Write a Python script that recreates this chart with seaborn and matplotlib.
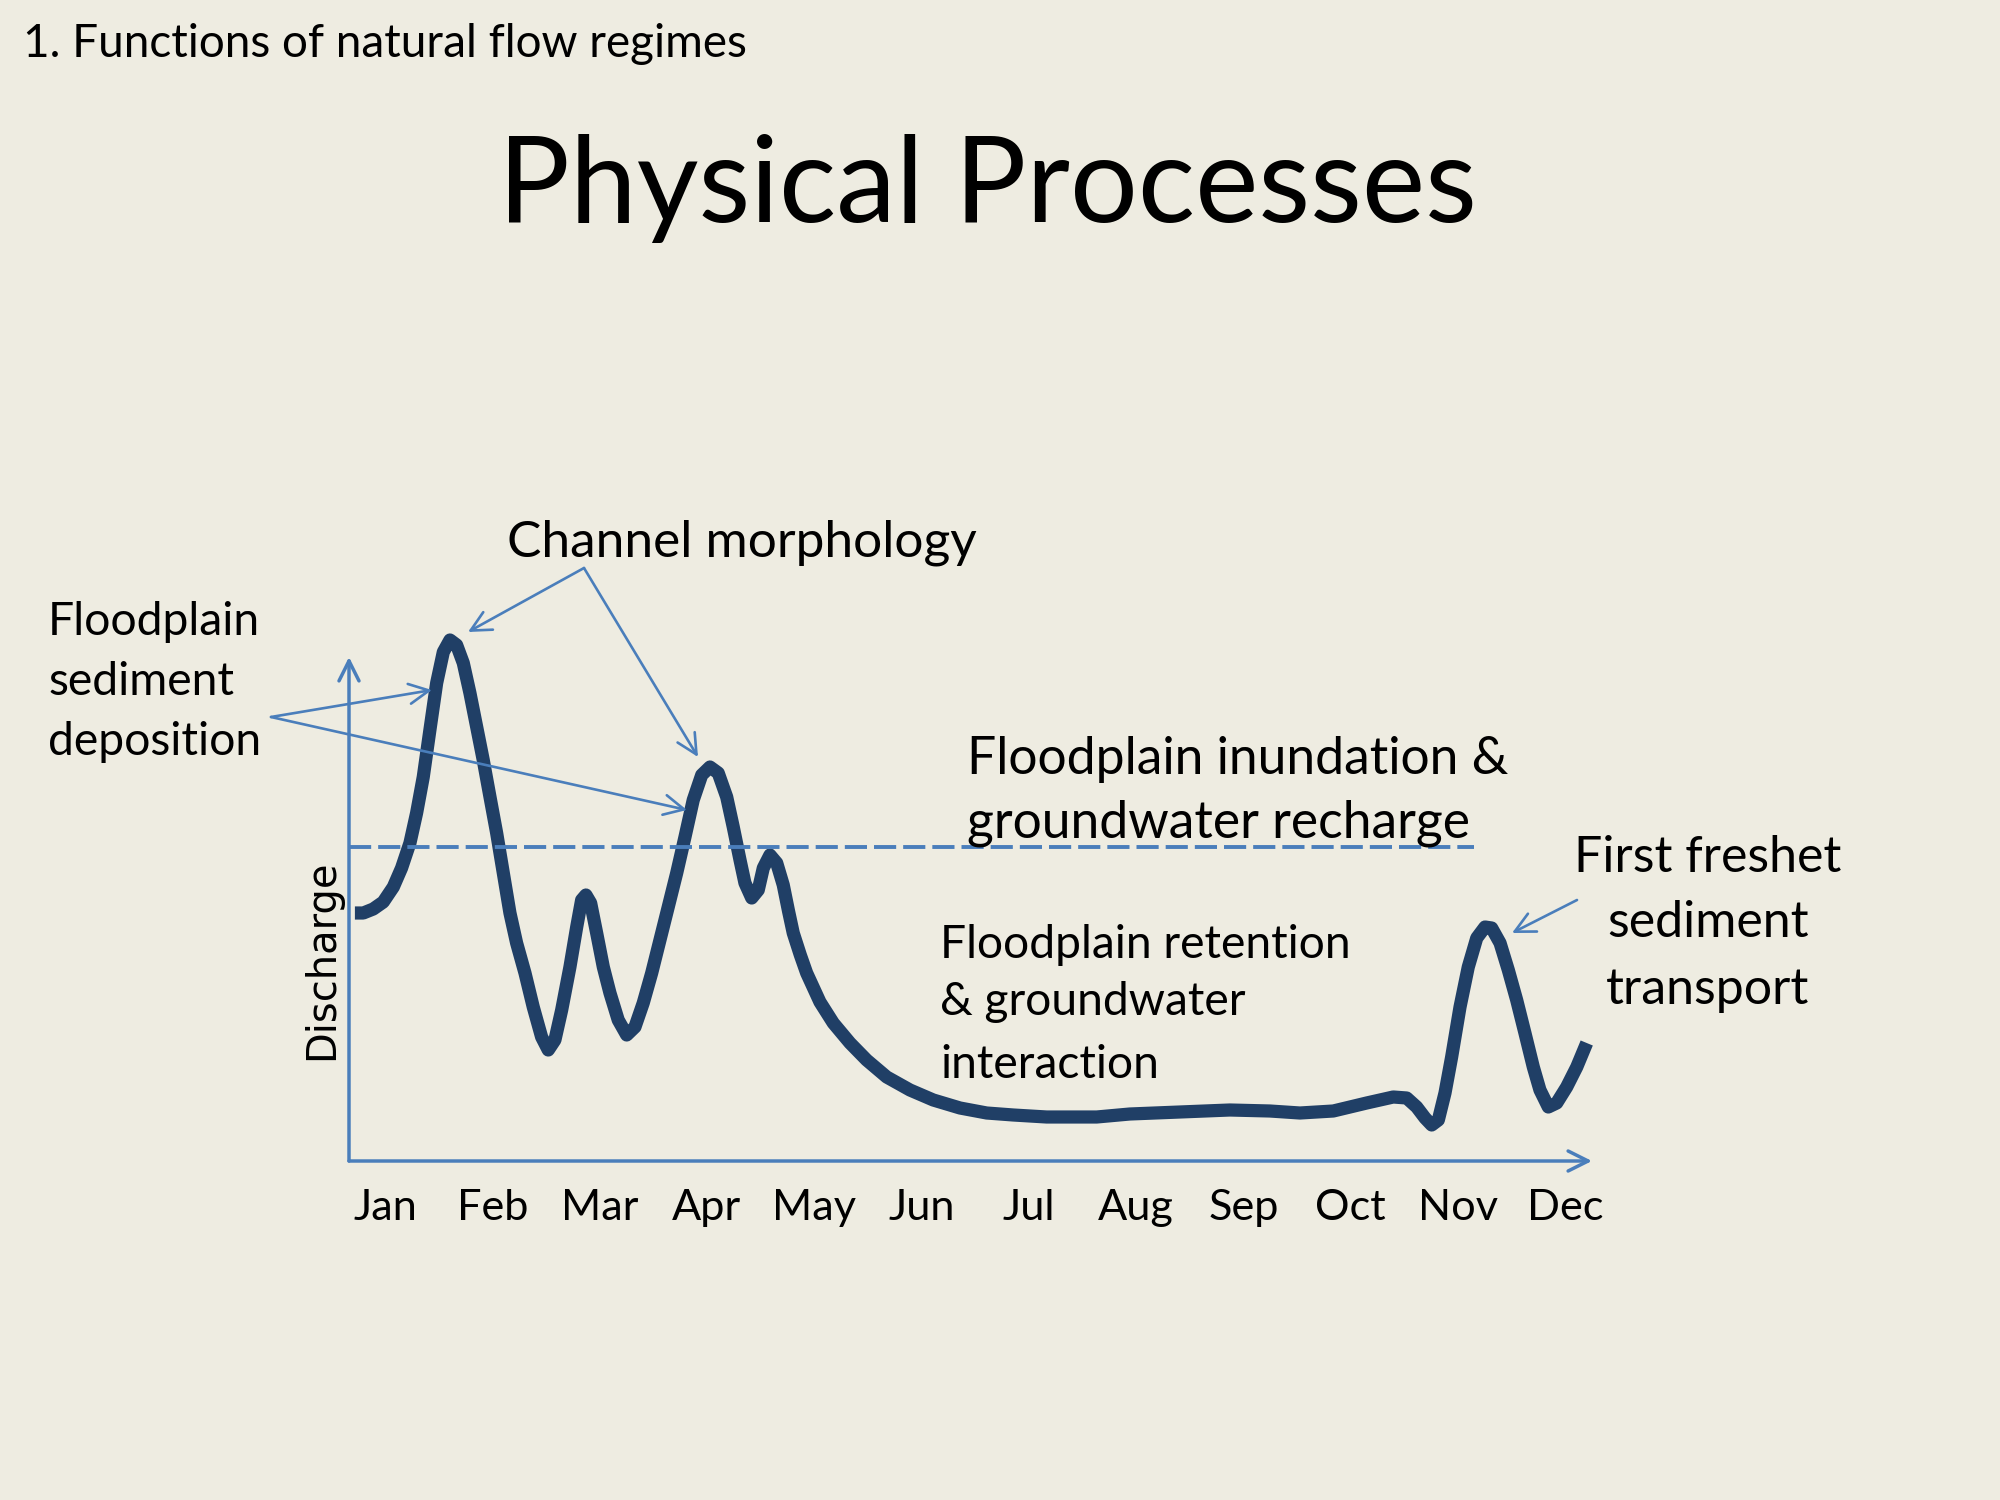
import matplotlib
matplotlib.use("Agg")
import matplotlib.pyplot as plt
from matplotlib.patches import FancyArrowPatch
import seaborn as sns
import pandas as pd

# ---------------- data ----------------
MONTHS = ["Jan", "Feb", "Mar", "Apr", "May", "Jun",
          "Jul", "Aug", "Sep", "Oct", "Nov", "Dec"]

# hydrograph: position in months (0 = Jan label), discharge (arbitrary units)
FLOW_MONTH = [-0.281, -0.203, -0.110, -0.017, 0.077, 0.154, 0.232, 0.294, 0.356, 0.418,
              0.481, 0.543, 0.605, 0.667, 0.729, 0.791, 0.854, 0.915, 0.978, 1.040,
              1.102, 1.164, 1.226, 1.304, 1.381, 1.459, 1.521, 1.583, 1.646, 1.723,
              1.786, 1.832, 1.872, 1.916, 1.972, 2.034, 2.096, 2.173, 2.252, 2.329,
              2.406, 2.485, 2.562, 2.639, 2.718, 2.795, 2.872, 2.951, 3.028, 3.105,
              3.184, 3.245, 3.308, 3.354, 3.417, 3.478, 3.525, 3.587, 3.650, 3.711,
              3.760, 3.804, 3.870, 3.929, 4.053, 4.177, 4.333, 4.488, 4.675, 4.892, 5.109,
              5.358, 5.607, 5.855, 6.166, 6.632, 6.941, 7.407, 7.873, 8.246, 8.526,
              8.837, 9.148, 9.396, 9.521, 9.614, 9.692, 9.754, 9.816, 9.878, 9.940,
              10.018, 10.095, 10.174, 10.251, 10.313, 10.391, 10.468, 10.546, 10.623, 10.701,
              10.763, 10.841, 10.919, 11.012, 11.106, 11.199]
FLOW_DISCHARGE = [24.8, 24.8, 25.2, 25.9, 27.4, 29.3, 31.8, 34.8, 38.4, 43.1,
                  47.8, 50.9, 52.1, 51.6, 49.8, 46.8, 43.4, 40.1, 36.4, 32.8,
                  28.8, 24.8, 21.8, 18.8, 15.4, 12.4, 11.1, 12.1, 15.1, 19.4,
                  23.4, 26.1, 26.6, 25.8, 22.8, 19.4, 16.8, 14.1, 12.6, 13.4,
                  15.8, 18.8, 22.1, 25.4, 28.8, 32.4, 36.1, 38.6, 39.4, 38.8,
                  36.4, 33.4, 30.1, 27.8, 26.3, 27.1, 29.3, 30.6, 29.8, 27.6,
                  25.0, 22.8, 20.6, 18.8, 15.9, 13.8, 11.8, 10.1, 8.4, 7.1, 6.1,
                  5.3, 4.8, 4.6, 4.4, 4.4, 4.7, 4.9, 5.1, 5.0, 4.8,
                  5.0, 5.8, 6.4, 6.3, 5.4, 4.3, 3.6, 4.1, 6.8, 10.4,
                  15.4, 19.4, 22.3, 23.4, 23.3, 21.8, 19.1, 16.1, 12.8, 9.4,
                  7.1, 5.4, 5.8, 7.4, 9.4, 11.8]

INUNDATION_LEVEL = 31.4      # dashed threshold
INUNDATION_END = 10.15       # dashed line stops here (months)
AXIS_TOP = 50.4              # top of the discharge arrow

SUBTITLE = "1. Functions of natural flow regimes"
TITLE = "Physical Processes"
Y_LABEL = "Discharge"
CHANNEL_TXT = "Channel morphology"
DEPOSITION_TXT = ["Floodplain", "sediment", "deposition"]
INUNDATION_TXT = ["Floodplain inundation &", "groundwater recharge"]
FRESHET_TXT = ["First freshet", "sediment", "transport"]
RETENTION_TXT = ["Floodplain retention", "& groundwater", "interaction"]

# ---------------- style ----------------
BG = "#EEECE1"
NAVY = "#203F66"
BLUE = "#4A7EBB"
W, H = 2000, 1500

sns.set_theme(style="white")
plt.rcParams["font.family"] = ["Lato", "DejaVu Sans"]

fig = plt.figure(figsize=(20, 15), dpi=100, facecolor=BG)


def F(x, y):
    return (x / W, 1 - y / H)


ax_l, ax_r, ax_b, ax_t = 349, 1592, 1161, 600
ax = fig.add_axes([ax_l / W, 1 - ax_b / H, (ax_r - ax_l) / W, (ax_b - ax_t) / H])
ax.set_facecolor("none")
XMIN, XMAX = -0.336, 11.248
ax.set_xlim(XMIN, XMAX)
ax.set_ylim(0, 56.1)

df = pd.DataFrame({"month": FLOW_MONTH, "discharge": FLOW_DISCHARGE})
sns.lineplot(data=df, x="month", y="discharge", sort=False, estimator=None,
             color=NAVY, lw=9.5, ax=ax, solid_joinstyle="round",
             solid_capstyle="butt", clip_on=False, zorder=2)

ax.hlines(INUNDATION_LEVEL, XMIN, INUNDATION_END, colors=BLUE, lw=2.8,
          linestyles=(0, (5.7, 1.8)), zorder=3)

arrow_kw = dict(arrowstyle="->", color=BLUE, lw=2.5, shrinkA=0, shrinkB=0,
                mutation_scale=36)
ax.annotate("", xy=(XMAX, 0), xytext=(XMIN, 0), arrowprops=arrow_kw,
            annotation_clip=False, zorder=3)
ax.annotate("", xy=(XMIN, AXIS_TOP), xytext=(XMIN, 0), arrowprops=arrow_kw,
            annotation_clip=False, zorder=3)

sns.despine(ax=ax, left=True, bottom=True)
ax.set_xlabel("")
ax.set_ylabel("")
ax.set_yticks([])
ax.set_xticks(range(len(MONTHS)))
ax.set_xticklabels(MONTHS)
ax.tick_params(axis="x", length=0, pad=(1220 - 1161) * 72 / 100)
for lab in ax.get_xticklabels():
    lab.set_verticalalignment("baseline")
    lab.set_fontsize(30)
    lab.set_color("black")

# annotation arrows (figure pixel coordinates)
def farrow(tail, tip):
    p = FancyArrowPatch(F(*tail), F(*tip), transform=fig.transFigure,
                        arrowstyle="->", color=BLUE, lw=1.9, shrinkA=0, shrinkB=0,
                        mutation_scale=36, zorder=5)
    fig.add_artist(p)

farrow((584, 568), (468, 632))
farrow((584, 568), (698, 757))
farrow((271, 717), (432, 690))
farrow((271, 717), (687, 810))
farrow((1577, 900), (1512, 933))

# ---------------- texts ----------------
renderer = fig.canvas.get_renderer()


def fit(texts, ref_idx, target, vertical=False):
    bb = texts[ref_idx].get_window_extent(renderer)
    cur = bb.height if vertical else bb.width
    s = texts[ref_idx].get_fontsize() * target / cur
    for t in texts:
        t.set_fontsize(s)


def block(lines, x, baselines, ha="left", size=30):
    return [fig.text(*F(x, b), s, ha=ha, va="baseline", fontsize=size, color="black")
            for s, b in zip(lines, baselines)]

t_sub = block([SUBTITLE], 23, [57])
fit(t_sub, 0, 724)
t_title = block([TITLE], 987, [222], ha="center", size=90)
fit(t_title, 0, 980)
t_ch = block([CHANNEL_TXT], 507, [557])
fit(t_ch, 0, 469)
t_dep = block(DEPOSITION_TXT, 48, [635, 695, 755])
fit(t_dep, 2, 213)
t_inu = block(INUNDATION_TXT, 967, [774, 837])
fit(t_inu, 0, 542)
t_fr = block(FRESHET_TXT, 1708, [872, 937, 1004], ha="center")
fit(t_fr, 0, 267)
t_ret = block(RETENTION_TXT, 940, [958, 1015, 1078])
fit(t_ret, 0, 410)
t_y = [fig.text(*F(322, 960), Y_LABEL, rotation=90, ha="center", va="center",
                fontsize=26, color="black", family=["DejaVu Sans"])]
fit(t_y, 0, 200, vertical=True)

fig.canvas.draw()
labs = ax.get_xticklabels()
wj = labs[0].get_window_extent(renderer).width
s = labs[0].get_fontsize() * 64 / wj
for lab in labs:
    lab.set_fontsize(s)

fig.savefig("out.png", dpi=100, facecolor=BG)
